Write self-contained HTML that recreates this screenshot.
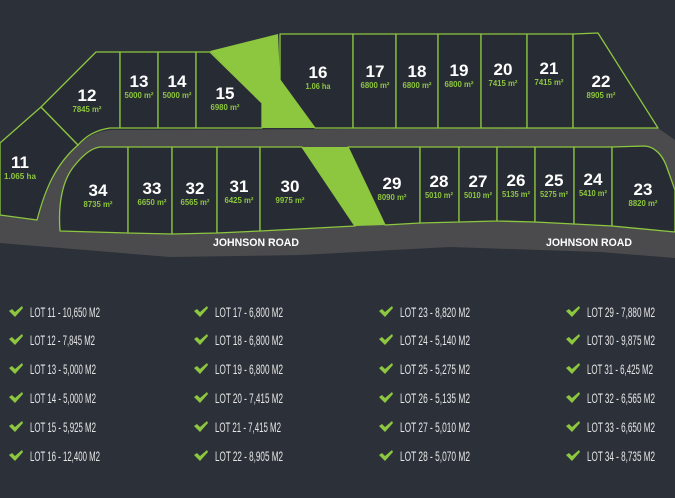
<!DOCTYPE html>
<html><head><meta charset="utf-8"><style>
html,body{margin:0;padding:0;background:#2c3139;width:675px;height:498px;overflow:hidden}
svg{display:block}
.n{font-family:"Liberation Sans",sans-serif;font-weight:bold;fill:#fff;font-size:17px;text-anchor:middle}
.a{font-family:"Liberation Sans",sans-serif;font-weight:bold;fill:#8dc63f;font-size:8px;text-anchor:middle}
.r{font-family:"Liberation Sans",sans-serif;font-weight:bold;fill:#fff;font-size:11px}
.l{font-family:"Liberation Sans",sans-serif;fill:#e6e6e6;font-size:13.5px}
</style></head><body>
<svg width="675" height="498" viewBox="0 0 675 498" xmlns="http://www.w3.org/2000/svg">
<rect width="675" height="498" fill="#2c3139"/>
<path d="M0,215 L37,220 C45,200 50,170 78,145 C90,135 100,130 115,130 L658,128 L675,140 L675,258 L600,252 L450,247 L300,255 L170,257 L0,243 Z" fill="#4b4b4d"/>
<g fill="#272c34" stroke="#8dc63f" stroke-width="1.3" stroke-linejoin="round">
<path d="M0,143 L41,107 L78,145 C55,165 45,190 37,220 L0,215 Z"/>
<path d="M41,107 L96,52 L120,52 L120,128 L110,128 C95,130 85,137 78,145 Z"/>
<rect x="120" y="52" width="38" height="76"/>
<rect x="158" y="52" width="38" height="76"/>
<path d="M196,52 L210,52 L262,103 L262,128 L196,128 Z"/>
<path d="M280,34 L353,34 L353,128 L315,128 L280,80 Z"/>
<rect x="353" y="34" width="43" height="94"/>
<rect x="396" y="34" width="42" height="94"/>
<rect x="438" y="34" width="43" height="94"/>
<rect x="481" y="34" width="46" height="94"/>
<rect x="527" y="34" width="46" height="94"/>
<path d="M573,34 L598,33 L658,128 L573,128 Z"/>
<path d="M100,147 L128,147 L128,233 L60,231 C58,205 62,180 75,165 C83,155 92,148 100,147 Z"/>
<path d="M128,147 L172,147 L172,234 L128,233 Z"/>
<path d="M172,147 L217,147 L217,233 L172,234 Z"/>
<path d="M217,147 L260,147 L260,231 L217,233 Z"/>
<path d="M260,147 L302,147 L355,226 L260,231 Z"/>
<path d="M348,147 L420,147 L420,223 L385,225 Z"/>
<path d="M420,147 L459,147 L459,222 L420,223 Z"/>
<path d="M459,147 L497,147 L497,221 L459,222 Z"/>
<path d="M497,147 L535,147 L535,222 L497,221 Z"/>
<path d="M535,147 L574,147 L574,224 L535,222 Z"/>
<path d="M574,147 L612,147 L612,226 L574,224 Z"/>
<path d="M612,147 L645,146 C655,147 662,155 666,165 L675,190 L675,232 L612,226 Z"/>
</g>
<g fill="#8dc63f">
<path d="M210,51 L278,34 L280,80 L315,128 L262,128 L262,103 Z"/>
<path d="M302,147 L348,147 L385,225 L355,226 Z"/>
</g>
<g>
<text class="n" x="20" y="168">11</text><text class="a" x="20" y="179" textLength="32" lengthAdjust="spacingAndGlyphs">1.065 ha</text>
<text class="n" x="87" y="101">12</text><text class="a" x="87" y="112" textLength="29" lengthAdjust="spacingAndGlyphs">7845 m²</text>
<text class="n" x="139" y="87">13</text><text class="a" x="139" y="98" textLength="29" lengthAdjust="spacingAndGlyphs">5000 m²</text>
<text class="n" x="177" y="87">14</text><text class="a" x="177" y="98" textLength="29" lengthAdjust="spacingAndGlyphs">5000 m²</text>
<text class="n" x="225" y="99">15</text><text class="a" x="225" y="110" textLength="29" lengthAdjust="spacingAndGlyphs">6980 m²</text>
<text class="n" x="318" y="78">16</text><text class="a" x="318" y="89" textLength="25" lengthAdjust="spacingAndGlyphs">1.06 ha</text>
<text class="n" x="375" y="77">17</text><text class="a" x="375" y="88" textLength="29" lengthAdjust="spacingAndGlyphs">6800 m²</text>
<text class="n" x="417" y="77">18</text><text class="a" x="417" y="88" textLength="29" lengthAdjust="spacingAndGlyphs">6800 m²</text>
<text class="n" x="459" y="76">19</text><text class="a" x="459" y="87" textLength="29" lengthAdjust="spacingAndGlyphs">6800 m²</text>
<text class="n" x="503" y="75">20</text><text class="a" x="503" y="86" textLength="29" lengthAdjust="spacingAndGlyphs">7415 m²</text>
<text class="n" x="549" y="74">21</text><text class="a" x="549" y="85" textLength="29" lengthAdjust="spacingAndGlyphs">7415 m²</text>
<text class="n" x="601" y="87">22</text><text class="a" x="601" y="98" textLength="29" lengthAdjust="spacingAndGlyphs">8905 m²</text>
<text class="n" x="98" y="196">34</text><text class="a" x="98" y="207" textLength="29" lengthAdjust="spacingAndGlyphs">8735 m²</text>
<text class="n" x="152" y="194">33</text><text class="a" x="152" y="205" textLength="29" lengthAdjust="spacingAndGlyphs">6650 m²</text>
<text class="n" x="195" y="194">32</text><text class="a" x="195" y="205" textLength="29" lengthAdjust="spacingAndGlyphs">6565 m²</text>
<text class="n" x="239" y="192">31</text><text class="a" x="239" y="203" textLength="29" lengthAdjust="spacingAndGlyphs">6425 m²</text>
<text class="n" x="290" y="192">30</text><text class="a" x="290" y="203" textLength="29" lengthAdjust="spacingAndGlyphs">9975 m²</text>
<text class="n" x="392" y="189">29</text><text class="a" x="392" y="200" textLength="29" lengthAdjust="spacingAndGlyphs">8090 m²</text>
<text class="n" x="439" y="187">28</text><text class="a" x="439" y="198" textLength="28" lengthAdjust="spacingAndGlyphs">5010 m²</text>
<text class="n" x="478" y="187">27</text><text class="a" x="478" y="198" textLength="28" lengthAdjust="spacingAndGlyphs">5010 m²</text>
<text class="n" x="516" y="186">26</text><text class="a" x="516" y="197" textLength="28" lengthAdjust="spacingAndGlyphs">5135 m²</text>
<text class="n" x="554" y="186">25</text><text class="a" x="554" y="197" textLength="28" lengthAdjust="spacingAndGlyphs">5275 m²</text>
<text class="n" x="593" y="185">24</text><text class="a" x="593" y="196" textLength="28" lengthAdjust="spacingAndGlyphs">5410 m²</text>
<text class="n" x="643" y="195">23</text><text class="a" x="643" y="206" textLength="29" lengthAdjust="spacingAndGlyphs">8820 m²</text>
</g>
<text class="r" x="213" y="246" textLength="86" lengthAdjust="spacingAndGlyphs">JOHNSON ROAD</text>
<text class="r" x="546" y="246" textLength="86" lengthAdjust="spacingAndGlyphs">JOHNSON ROAD</text>
<defs><path id="ck" d="M0,5 L3,3 L6,6 L13,0 L14,2 L6,11 Z" fill="#8dc63f"/></defs>
<g>
<use href="#ck" x="9" y="306"/><text class="l" x="30" y="317" textLength="70" lengthAdjust="spacingAndGlyphs">LOT 11 - 10,650 M2</text>
<use href="#ck" x="9" y="334"/><text class="l" x="30" y="345" textLength="65" lengthAdjust="spacingAndGlyphs">LOT 12 - 7,845 M2</text>
<use href="#ck" x="9" y="363"/><text class="l" x="30" y="374" textLength="66" lengthAdjust="spacingAndGlyphs">LOT 13 - 5,000 M2</text>
<use href="#ck" x="9" y="392"/><text class="l" x="30" y="403" textLength="66" lengthAdjust="spacingAndGlyphs">LOT 14 - 5,000 M2</text>
<use href="#ck" x="9" y="421"/><text class="l" x="30" y="432" textLength="66" lengthAdjust="spacingAndGlyphs">LOT 15 - 5,925 M2</text>
<use href="#ck" x="9" y="450"/><text class="l" x="30" y="461" textLength="70" lengthAdjust="spacingAndGlyphs">LOT 16 - 12,400 M2</text>
<use href="#ck" x="194" y="306"/><text class="l" x="215" y="317" textLength="68" lengthAdjust="spacingAndGlyphs">LOT 17 - 6,800 M2</text>
<use href="#ck" x="194" y="334"/><text class="l" x="215" y="345" textLength="68" lengthAdjust="spacingAndGlyphs">LOT 18 - 6,800 M2</text>
<use href="#ck" x="194" y="363"/><text class="l" x="215" y="374" textLength="68" lengthAdjust="spacingAndGlyphs">LOT 19 - 6,800 M2</text>
<use href="#ck" x="194" y="392"/><text class="l" x="215" y="403" textLength="68" lengthAdjust="spacingAndGlyphs">LOT 20 - 7,415 M2</text>
<use href="#ck" x="194" y="421"/><text class="l" x="215" y="432" textLength="66" lengthAdjust="spacingAndGlyphs">LOT 21 - 7,415 M2</text>
<use href="#ck" x="194" y="450"/><text class="l" x="215" y="461" textLength="68" lengthAdjust="spacingAndGlyphs">LOT 22 - 8,905 M2</text>
<use href="#ck" x="379" y="306"/><text class="l" x="400" y="317" textLength="70" lengthAdjust="spacingAndGlyphs">LOT 23 - 8,820 M2</text>
<use href="#ck" x="379" y="334"/><text class="l" x="400" y="345" textLength="70" lengthAdjust="spacingAndGlyphs">LOT 24 - 5,140 M2</text>
<use href="#ck" x="379" y="363"/><text class="l" x="400" y="374" textLength="70" lengthAdjust="spacingAndGlyphs">LOT 25 - 5,275 M2</text>
<use href="#ck" x="379" y="392"/><text class="l" x="400" y="403" textLength="70" lengthAdjust="spacingAndGlyphs">LOT 26 - 5,135 M2</text>
<use href="#ck" x="379" y="421"/><text class="l" x="400" y="432" textLength="70" lengthAdjust="spacingAndGlyphs">LOT 27 - 5,010 M2</text>
<use href="#ck" x="379" y="450"/><text class="l" x="400" y="461" textLength="70" lengthAdjust="spacingAndGlyphs">LOT 28 - 5,070 M2</text>
<use href="#ck" x="566" y="306"/><text class="l" x="587" y="317" textLength="68" lengthAdjust="spacingAndGlyphs">LOT 29 - 7,880 M2</text>
<use href="#ck" x="566" y="334"/><text class="l" x="587" y="345" textLength="68" lengthAdjust="spacingAndGlyphs">LOT 30 - 9,875 M2</text>
<use href="#ck" x="566" y="363"/><text class="l" x="587" y="374" textLength="66" lengthAdjust="spacingAndGlyphs">LOT 31 - 6,425 M2</text>
<use href="#ck" x="566" y="392"/><text class="l" x="587" y="403" textLength="68" lengthAdjust="spacingAndGlyphs">LOT 32 - 6,565 M2</text>
<use href="#ck" x="566" y="421"/><text class="l" x="587" y="432" textLength="68" lengthAdjust="spacingAndGlyphs">LOT 33 - 6,650 M2</text>
<use href="#ck" x="566" y="450"/><text class="l" x="587" y="461" textLength="68" lengthAdjust="spacingAndGlyphs">LOT 34 - 8,735 M2</text>
</g>
</svg>
</body></html>
